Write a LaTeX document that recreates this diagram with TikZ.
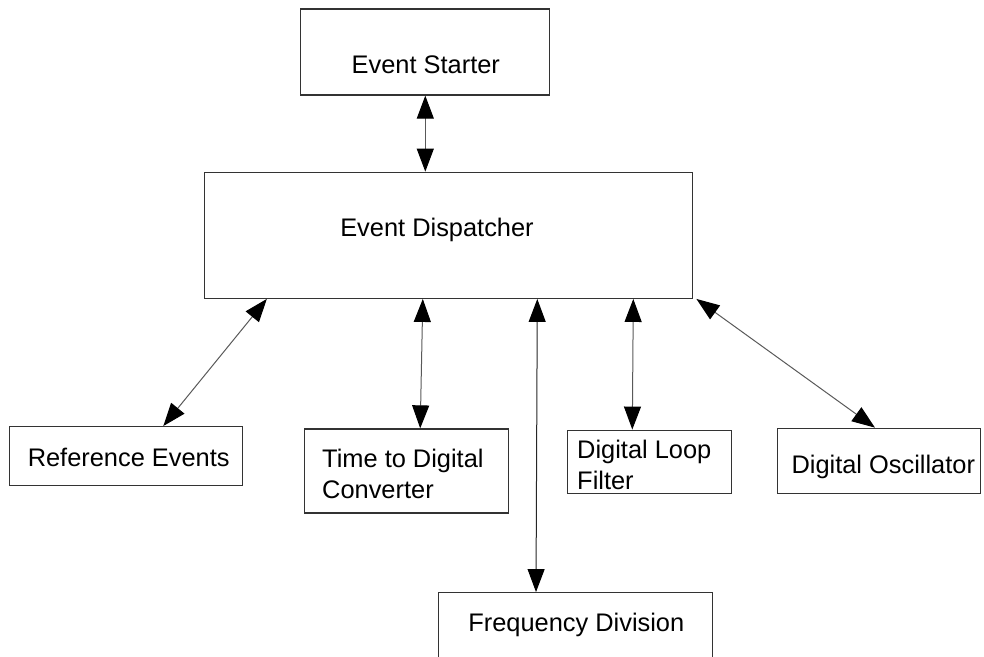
\documentclass[tikz,border=0pt]{standalone}
\usepackage{fontspec}
\setmainfont{Liberation Sans}
\usetikzlibrary{arrows.meta}

\newcommand{\blkfont}{\fontsize{25.4}{31.5}\selectfont}

\begin{document}
\begin{tikzpicture}[x=1pt,y=-1pt,
 blk/.style={draw=black!80,line width=1.3pt,fill=white,inner sep=0pt},
 lbl/.style={font=\blkfont,inner sep=0pt,text height=18.2pt,text depth=0pt},
 lbltwo/.style={font=\blkfont,inner sep=0pt,align=left},
 link/.style={{Triangle[length=23pt,width=17pt,color=black]}-{Triangle[length=23pt,width=17pt,color=black]},
  draw=black!65,line width=1pt}]
 \clip (0,0) rectangle (984,656);
 % blocks
 \node[blk,minimum width=249pt,minimum height=86pt,
  label={[lbl,shift={(0.5,12.5)}]center:Event Starter}] (starter) at (425.3,52) {};
 \node[blk,minimum width=488pt,minimum height=126pt,
  label={[lbl,shift={(-11.8,-7.8)}]center:Event Dispatcher}] (disp) at (448.8,235.3) {};
 \node[blk,minimum width=233pt,minimum height=59pt,
  label={[lbl,shift={(2.4,1.3)}]center:Reference Events}] (ref) at (126.3,456.2) {};
 \node[blk,minimum width=204pt,minimum height=84pt,
  label={[lbltwo,shift={(-3.3,3)}]center:Time to Digital\\Converter}] (tdc) at (406.2,471) {};
 \node[blk,minimum width=164pt,minimum height=63pt,
  label={[lbltwo,shift={(-5.4,3)}]center:Digital Loop\\Filter}] (dlf) at (649.7,461.7) {};
 \node[blk,minimum width=203pt,minimum height=65pt,
  label={[lbl,shift={(4,3.4)}]center:Digital Oscillator}] (osc) at (879.3,460.8) {};
 \node[blk,minimum width=274pt,minimum height=87pt,
  label={[lbl,shift={(1,-13.7)}]center:Frequency Division}] (freq) at (575.3,636.2) {};
 % links to the dispatcher
 \draw[link] (starter.south) -- (starter.south |- disp.north);
 \draw[link] ([shift={(-182,0)}]disp.south) -- ([shift={(37,0)}]ref.north);
 \draw[link] ([shift={(-26,0)}]disp.south) -- ([shift={(14,0)}]tdc.north);
 \draw[link,draw=black!85] ([shift={(88.5,0)}]disp.south) -- ([shift={(-39.3,0)}]freq.north);
 \draw[link] ([shift={(184.5,0)}]disp.south) -- ([shift={(-17.4,0)}]dlf.north);
 \draw[link] ([shift={(3,0)}]disp.south east) -- ([shift={(-4.3,0)}]osc.north);
\end{tikzpicture}
\end{document}
